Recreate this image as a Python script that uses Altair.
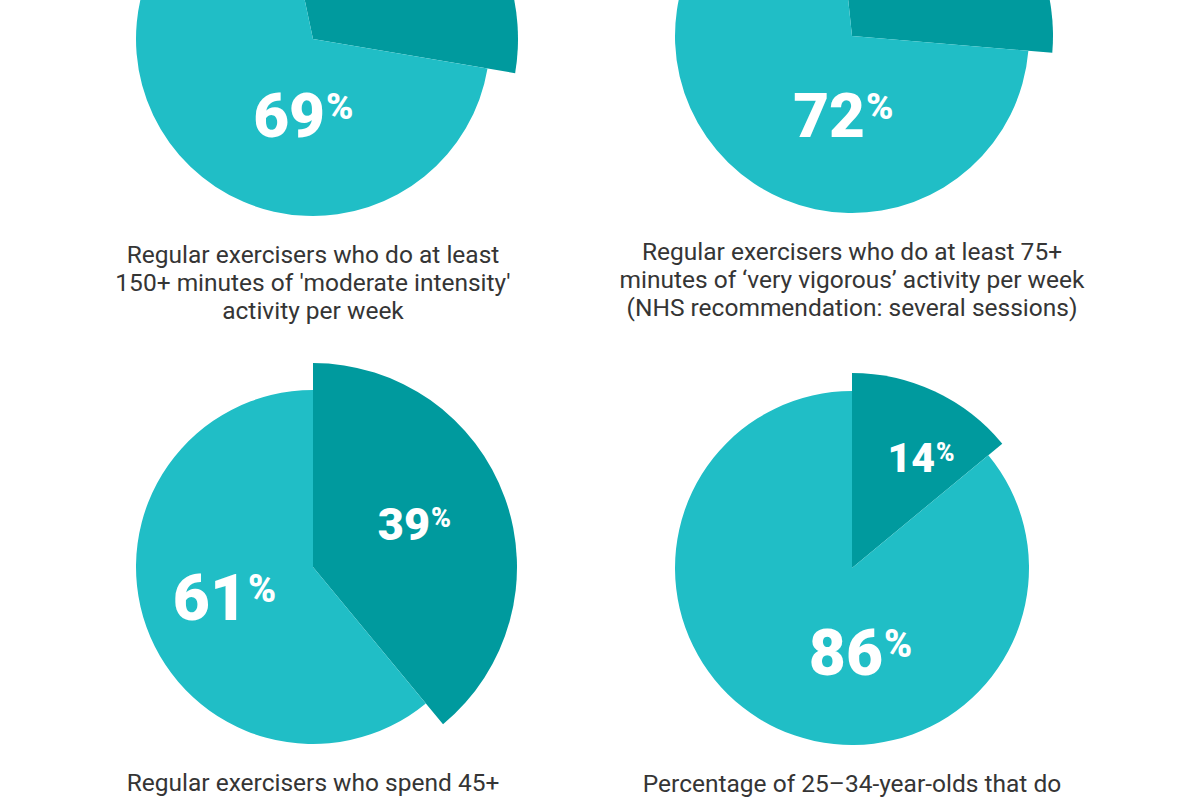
import altair as alt
import pandas as pd

# Shares of respondents, in percent: highlighted (dark) part and remainder (light)
dark_pct = [31, 28, 39, 14]
light_pct = [69, 72, 61, 86]

captions = [
    ["Regular exercisers who do at least",
     "150+ minutes of 'moderate intensity'",
     "activity per week"],
    ["Regular exercisers who do at least 75+",
     "minutes of \u2018very vigorous\u2019 activity per week",
     "(NHS recommendation: several sessions)"],
    ["Regular exercisers who spend 45+"],
    ["Percentage of 25\u201334-year-olds that do"],
]

# Layout of the four pies on the page
centers = [(313, 39), (852, 36), (313, 567), (852, 568)]
light_radius = 177
dark_radius = [205, 201, 204, 195]
start_deg = [-12, -6, 0, 0]
# (digits right edge, baseline, digit size) for the light and dark labels; None = off the page
light_label = [(325, 137, 62), (865, 137, 62), (247, 620, 64), (883, 675, 64)]
dark_label = [None, None, (430, 540, 45), (935, 472, 41)]
caption_offset = 224

LIGHT = "#20bec6"
DARK = "#009a9e"
TEXT = "#353535"
NUM_FONT = "Roboto"
CAP_FONT = "Roboto"

TWO_PI = 6.283185307179586
layers = []

for i in range(4):
    cx, cy = centers[i]
    a0 = start_deg[i] * TWO_PI / 360
    pie_df = pd.DataFrame({
        "part": ["dark", "light"],
        "pct": [dark_pct[i], light_pct[i]],
        "rank": [0, 1],
    })
    pie = (
        alt.Chart(pie_df)
        .transform_window(end="sum(pct)", sort=[alt.SortField("rank")], frame=[None, 0])
        .transform_calculate(
            start="datum.end - datum.pct",
            r=f"datum.part == 'dark' ? {dark_radius[i]} : {light_radius}",
        )
        .mark_arc()
        .encode(
            theta=alt.Theta("start:Q",
                            scale=alt.Scale(domain=[0, 100], range=[a0, a0 + TWO_PI])),
            theta2="end:Q",
            radius=alt.Radius("r:Q", scale=None),
            color=alt.Color("part:N",
                            scale=alt.Scale(domain=["dark", "light"], range=[DARK, LIGHT]),
                            legend=None),
            x=alt.value(cx),
            y=alt.value(cy),
        )
    )
    layers.append(pie)

    for lab, val in ((light_label[i], light_pct[i]), (dark_label[i], dark_pct[i])):
        if lab is None:
            continue
        rx, base, size = lab
        psize = round(size * 0.6)
        num_df = pd.DataFrame({"pct": [val]})
        digits = (
            alt.Chart(num_df)
            .mark_text(font=NUM_FONT, fontWeight=900, fontSize=size, color="white",
                       align="right", baseline="alphabetic")
            .encode(text=alt.Text("pct:Q", format="d"),
                    x=alt.value(rx), y=alt.value(base))
        )
        pct_sign = (
            alt.Chart(num_df)
            .mark_text(font=NUM_FONT, fontWeight=900, fontSize=psize, color="white",
                       align="left", baseline="alphabetic")
            .encode(text=alt.value("%"),
                    x=alt.value(rx + 1),
                    y=alt.value(base - round(0.711 * (size - psize))))
        )
        layers += [digits, pct_sign]

    cap = (
        alt.Chart(pd.DataFrame({"k": [i]}))
        .mark_text(font=CAP_FONT, fontSize=24.5, color=TEXT, align="center",
                   baseline="alphabetic", lineHeight=28)
        .encode(text=alt.value(captions[i]),
                x=alt.value(cx), y=alt.value(cy + caption_offset))
    )
    layers.append(cap)

chart = (
    alt.layer(*layers)
    .resolve_scale(theta="independent")
    .properties(width=1200, height=800, autosize=alt.AutoSizeParams(type="none"),
                padding=0, background="white")
    .configure_view(stroke=None)
)

chart.save("out.html", embed_options={"renderer": "svg", "actions": False})
